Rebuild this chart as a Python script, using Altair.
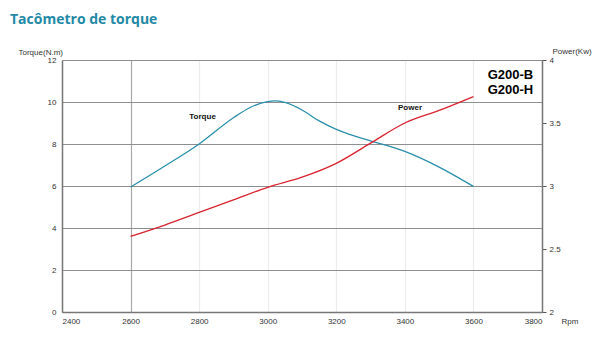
import altair as alt
import pandas as pd

# ---- data ----
torque_rpm = [2600, 2700, 2800, 2900, 2950, 3000, 3020, 3050, 3100, 3150, 3200, 3250, 3300, 3400, 3500, 3600]
torque_val = [5.95, 6.95, 8.0, 9.25, 9.75, 10.02, 10.05, 9.98, 9.62, 9.1, 8.7, 8.4, 8.15, 7.65, 6.9, 5.98]

power_rpm = [2600, 2700, 2800, 2900, 3000, 3100, 3200, 3300, 3400, 3500, 3600]
power_val = [2.6, 2.69, 2.79, 2.89, 2.99, 3.07, 3.18, 3.34, 3.5, 3.6, 3.71]

curve_labels = ["Torque", "Power"]
curve_label_rpm = [2810, 3415]
curve_label_torque = [9.29, 9.7]

model_labels = ["G200-B", "G200-H"]
model_label_rpm = [3708, 3708]
model_label_torque = [11.3, 10.58]

x_ticks = [2400, 2600, 2800, 3000, 3200, 3400, 3600, 3800]
torque_ticks = [0, 2, 4, 6, 8, 10, 12]
power_ticks = [2, 2.5, 3, 3.5, 4]

torque_df = pd.DataFrame({"rpm": torque_rpm, "v": torque_val})
power_df = pd.DataFrame({"rpm": power_rpm, "v": power_val})
curve_df = pd.DataFrame({"label": curve_labels, "rpm": curve_label_rpm, "v": curve_label_torque})
model_df = pd.DataFrame({"label": model_labels, "rpm": model_label_rpm, "v": model_label_torque})

FONT = "Liberation Sans"
XSCALE = alt.Scale(domain=[2400, 3800], nice=False, zero=False)

x_enc = alt.X(
    "rpm:Q",
    scale=XSCALE,
    axis=alt.Axis(
        values=x_ticks, format="d", title="Rpm", titleAngle=0,
        titleX=499, titleY=5, titleBaseline="top", titleAlign="left",
        titleFontWeight="normal", titleFontSize=8, titleFont=FONT, titleColor="#333",
        labelFont=FONT, labelFontSize=8, labelColor="#333", labelPadding=5,
        ticks=False, domain=True, domainColor="#777", domainWidth=1.5,
        grid=True,
        gridColor={"condition": {"test": "datum.value === 2600", "value": "#a8a8a8"}, "value": "#ececec"},
        gridWidth=1.2,
    ),
)

y_torque_scale = alt.Scale(domain=[0, 12], nice=False)

torque_line = alt.Chart(torque_df).mark_line(
    color="#2b8fab", strokeWidth=1.3, interpolate="monotone"
).encode(
    x=x_enc,
    y=alt.Y(
        "v:Q", scale=y_torque_scale,
        axis=alt.Axis(
            values=torque_ticks, title="Torque(N.m)", orient="left", titleAngle=0,
            titleX=-44, titleY=-8, titleAlign="left", titleBaseline="middle",
            titleFontWeight="normal", titleFontSize=8, titleFont=FONT, titleColor="#333",
            labelFont=FONT, labelFontSize=8, labelColor="#333", labelPadding=6,
            ticks=False, domain=True, domainColor="#777", domainWidth=1.5,
            grid=True, gridColor="#8f8f8f", gridWidth=1.2,
        ),
    ),
)

curve_text = alt.Chart(curve_df).mark_text(
    font=FONT, fontSize=8, fontWeight="bold", color="#111"
).encode(
    x=alt.X("rpm:Q", scale=XSCALE),
    y=alt.Y("v:Q", scale=y_torque_scale),
    text="label:N",
)

model_text = alt.Chart(model_df).mark_text(
    font=FONT, fontSize=13, fontWeight="bold", color="#000"
).encode(
    x=alt.X("rpm:Q", scale=XSCALE),
    y=alt.Y("v:Q", scale=y_torque_scale),
    text="label:N",
)

power_line = alt.Chart(power_df).mark_line(
    color="#d8232f", strokeWidth=1.3, interpolate="monotone"
).encode(
    x=alt.X("rpm:Q", scale=XSCALE),
    y=alt.Y(
        "v:Q", scale=alt.Scale(domain=[2, 4], nice=False, zero=False),
        axis=alt.Axis(
            values=power_ticks, format="~g", title="Power(Kw)", orient="right", titleAngle=0,
            titleX=10, titleY=-9, titleAlign="left", titleBaseline="middle",
            titleFontWeight="normal", titleFontSize=8, titleFont=FONT, titleColor="#333",
            labelFont=FONT, labelFontSize=8, labelColor="#333", labelPadding=3,
            ticks=True, tickSize=4, tickColor="#555",
            domain=True, domainColor="#777", domainWidth=1.5,
            grid=False,
        ),
    ),
)

left = alt.layer(torque_line, curve_text, model_text)

chart = alt.layer(left, power_line).resolve_scale(y="independent").properties(
    width=480,
    height=252,
    padding={"left": 62, "top": 60, "right": 58, "bottom": 26},
    autosize=alt.AutoSizeParams(type="none"),
    title=alt.Title(
        "Tacômetro de torque", anchor="start", frame="group", dx=-52, offset=20,
        font="Open Sans", fontSize=14, fontWeight="bold", color="#2389a6",
    ),
).configure_view(stroke=None).configure(background="white")

chart.save("out.html", embed_options={"renderer": "svg", "actions": False})
